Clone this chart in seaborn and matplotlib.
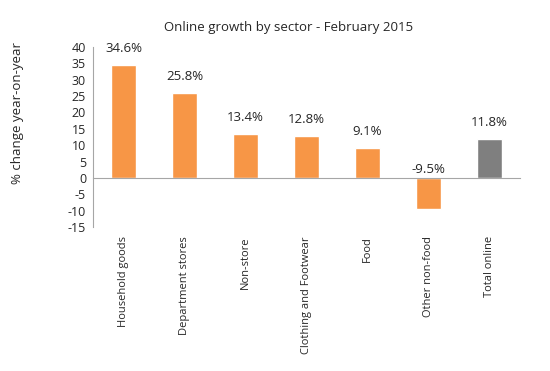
import matplotlib
matplotlib.use("Agg")
import matplotlib.pyplot as plt
import seaborn as sns
import pandas as pd
from matplotlib.ticker import FixedLocator

categories = ["Household goods", "Department stores", "Non-store", "Clothing and Footwear",
              "Food", "Other non-food", "Total online"]
values = [34.6, 25.8, 13.4, 12.8, 9.1, -9.5, 11.8]
groups = ["sector", "sector", "sector", "sector", "sector", "sector", "total"]
yticks = [-15, -10, -5, 0, 5, 10, 15, 20, 25, 30, 35, 40]

sns.set_style("white")
plt.rcParams['font.family'] = ['Open Sans', 'DejaVu Sans']

df = pd.DataFrame({"cat": categories, "val": values, "grp": groups})

fig = plt.figure(figsize=(5.5, 3.71), dpi=100)
ax = fig.add_axes([93/550, 1-227/371, (520-93)/550, (227-47)/371])

sns.barplot(data=df, x="cat", y="val", hue="grp",
            palette={"sector": "#F79646", "total": "#7F7F7F"},
            dodge=False, width=0.4, legend=False, ax=ax, saturation=1)

ax.set_ylim(-15, 40)
ax.set_xlim(-0.5, len(categories) - 0.5)
ax.set_yticks(yticks)
ax.set_yticklabels([str(t) for t in yticks], fontsize=9)
ax.set_xlabel("")
ax.set_ylabel("")

for s in ["top", "right"]:
    ax.spines[s].set_visible(False)
ax.spines["left"].set_color("#A6A6A6")
ax.spines["bottom"].set_color("#A6A6A6")
ax.spines["bottom"].set_position(("data", 0))

ax.tick_params(axis="y", direction="out", length=3, color="#A6A6A6", pad=2, labelsize=9)
ax.tick_params(axis="x", which="major", length=0, pad=42, labelsize=8, labelrotation=90)
ax.xaxis.set_minor_locator(FixedLocator([i + 0.5 for i in range(len(categories) - 1)]))
ax.tick_params(axis="x", which="minor", direction="out", length=3, color="#A6A6A6")
for lab in ax.get_xticklabels():
    lab.set_verticalalignment("top")

for i, v in enumerate(values):
    if v >= 0:
        ax.annotate(f"{v:.1f}%", (i, v), xytext=(0, 12), textcoords="offset points",
                    ha="center", va="center", fontsize=9.5)
    else:
        ax.annotate(f"{v:.1f}%", (i, 0), xytext=(0, 6), textcoords="offset points",
                    ha="center", va="center", fontsize=9.5)

fig.text(289/550, 1-28/371, "Online growth by sector - February 2015", ha="center",
         va="center", fontsize=9.5)
fig.text(18/550, 1-113/371, "% change year-on-year", rotation=90, ha="center",
         va="center", fontsize=9.5)

fig.savefig("out.png", dpi=100)
